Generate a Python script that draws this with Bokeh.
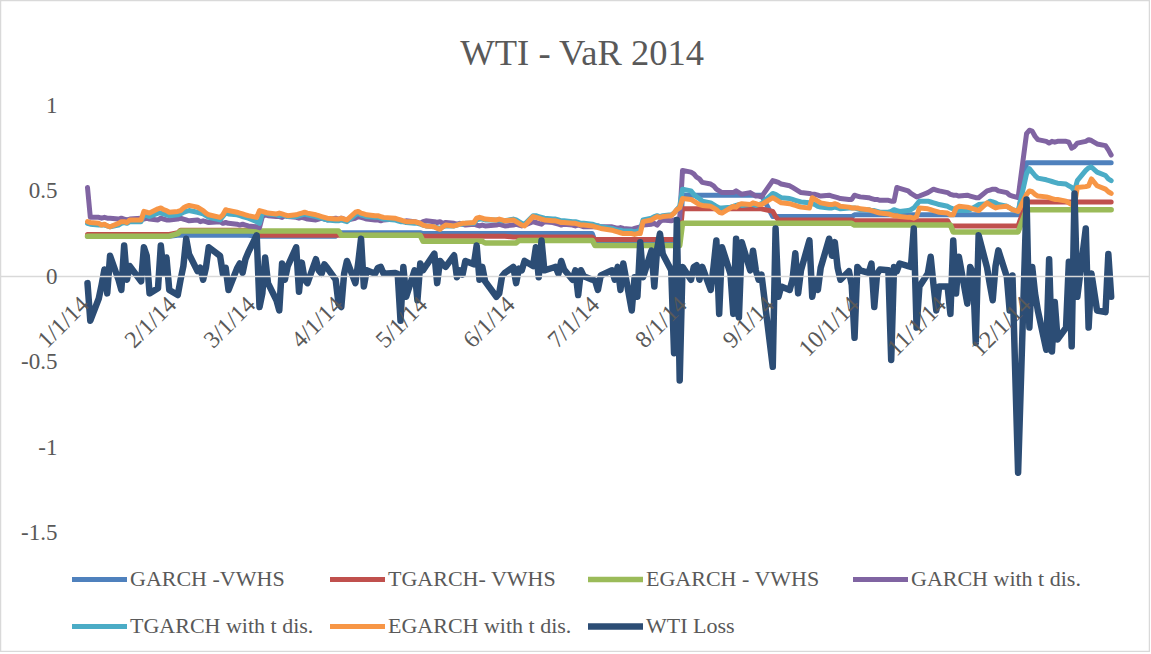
import math
import pandas as pd
from bokeh.plotting import figure
from bokeh.models import (Legend, LegendItem, Label, FixedTicker, Range1d,
                          CustomJSTickFormatter)
from bokeh.core.properties import value
from bokeh.embed import file_html
from bokeh.resources import INLINE

# ---------------- data ----------------
HOLIDAYS = ["2014-01-20", "2014-02-17", "2014-04-18", "2014-05-26",
            "2014-07-04", "2014-09-01", "2014-11-27", "2014-12-25"]
DATES = pd.bdate_range("2014-01-02", "2014-12-31", freq="C", holidays=HOLIDAYS)

MONTH_TICKS = ["2014-01-01", "2014-02-01", "2014-03-01", "2014-04-01", "2014-05-01", "2014-06-01",
               "2014-07-01", "2014-08-01", "2014-09-01", "2014-10-01", "2014-11-01", "2014-12-01"]

Y_TICKS = [-1.5, -1.0, -0.5, 0.0, 0.5, 1.0]

GARCH_VWHS = [
    0.235, 0.235, 0.235, 0.235, 0.235, 0.235, 0.235, 0.235, 0.235, 0.235, 0.235, 0.235, 0.235, 0.235, 0.235, 0.235, 0.235, 0.235, 0.235, 0.235, 0.235,
    0.24, 0.24, 0.24, 0.24, 0.24, 0.24, 0.24, 0.24, 0.24, 0.24, 0.24, 0.24, 0.24, 0.24, 0.24, 0.24, 0.24, 0.24, 0.24,
    0.235, 0.235, 0.235, 0.235, 0.235, 0.235, 0.235, 0.235, 0.235, 0.235, 0.235, 0.235, 0.235, 0.235, 0.235, 0.235, 0.235, 0.235, 0.235, 0.235, 0.235,
    0.255, 0.255, 0.255, 0.255, 0.255, 0.255, 0.255, 0.255, 0.255, 0.255, 0.255, 0.255, 0.255, 0.255, 0.255, 0.255, 0.255, 0.255, 0.255, 0.255, 0.255,
    0.25, 0.25, 0.25, 0.25, 0.25, 0.25, 0.25, 0.25, 0.25, 0.25, 0.25, 0.25, 0.25, 0.25, 0.25, 0.25, 0.25, 0.25, 0.25, 0.25, 0.25,
    0.25, 0.25, 0.25, 0.25, 0.25, 0.25, 0.25, 0.25, 0.25, 0.25, 0.25, 0.25, 0.25, 0.25, 0.25, 0.25, 0.25, 0.25, 0.25, 0.25, 0.25,
    0.205, 0.205, 0.205, 0.205, 0.205, 0.205, 0.205, 0.205, 0.205, 0.205, 0.205, 0.205, 0.205, 0.205, 0.205, 0.205, 0.205, 0.205, 0.205, 0.205, 0.205, 0.205,
    0.475, 0.475, 0.475, 0.475, 0.475, 0.475, 0.475, 0.475, 0.475, 0.475, 0.475, 0.475, 0.475, 0.475, 0.475, 0.475, 0.475, 0.475, 0.475, 0.475, 0.475,
    0.35, 0.35, 0.35, 0.35, 0.35, 0.35, 0.35, 0.35, 0.35, 0.35, 0.35, 0.35, 0.35, 0.35, 0.35, 0.35, 0.35, 0.35, 0.35, 0.35, 0.35,
    0.36, 0.36, 0.36, 0.36, 0.36, 0.36, 0.36, 0.36, 0.36, 0.36, 0.36, 0.36, 0.36, 0.36, 0.36, 0.36, 0.36, 0.36, 0.36, 0.36, 0.36, 0.36, 0.36,
    0.36, 0.36, 0.36, 0.36, 0.36, 0.36, 0.36, 0.36, 0.36, 0.36, 0.36, 0.36, 0.36, 0.36, 0.36, 0.36, 0.36, 0.36, 0.36,
    0.665, 0.665, 0.665, 0.665, 0.665, 0.665, 0.665, 0.665, 0.665, 0.665, 0.665, 0.665, 0.665, 0.665, 0.665, 0.665, 0.665, 0.665, 0.665, 0.665, 0.665, 0.665,
]

TGARCH_VWHS = [
    0.245, 0.245, 0.245, 0.245, 0.245, 0.245, 0.245, 0.245, 0.245, 0.245, 0.245, 0.245, 0.245, 0.245, 0.245, 0.245, 0.245, 0.245, 0.245, 0.245, 0.245,
    0.255, 0.27, 0.27, 0.27, 0.27, 0.27, 0.27, 0.27, 0.27, 0.27, 0.27, 0.27, 0.27, 0.27, 0.27, 0.27, 0.27, 0.27, 0.27,
    0.27, 0.24, 0.24, 0.24, 0.24, 0.24, 0.24, 0.24, 0.24, 0.24, 0.24, 0.24, 0.24, 0.24, 0.24, 0.24, 0.24, 0.24, 0.24, 0.24, 0.24,
    0.24, 0.24, 0.24, 0.24, 0.24, 0.24, 0.24, 0.24, 0.24, 0.24, 0.24, 0.24, 0.24, 0.24, 0.24, 0.24, 0.24, 0.24, 0.24, 0.24, 0.24,
    0.235, 0.235, 0.235, 0.235, 0.235, 0.235, 0.235, 0.235, 0.235, 0.235, 0.235, 0.235, 0.235, 0.235, 0.235, 0.235, 0.235, 0.235, 0.235, 0.235, 0.235,
    0.23, 0.23, 0.23, 0.23, 0.23, 0.23, 0.23, 0.23, 0.23, 0.23, 0.23, 0.23, 0.23, 0.23, 0.23, 0.23, 0.23, 0.23, 0.23, 0.23, 0.23,
    0.215, 0.215, 0.215, 0.215, 0.215, 0.215, 0.215, 0.215, 0.215, 0.215, 0.215, 0.215, 0.215, 0.215, 0.215, 0.215, 0.215, 0.215, 0.215, 0.215, 0.215, 0.215,
    0.395, 0.395, 0.395, 0.395, 0.395, 0.395, 0.395, 0.395, 0.395, 0.395, 0.395, 0.395, 0.395, 0.395, 0.395, 0.395, 0.395, 0.395, 0.395, 0.395, 0.395,
    0.38, 0.35, 0.33, 0.33, 0.33, 0.33, 0.33, 0.33, 0.33, 0.33, 0.33, 0.33, 0.33, 0.33, 0.33, 0.33, 0.33, 0.33, 0.33, 0.33, 0.33,
    0.325, 0.325, 0.325, 0.325, 0.325, 0.325, 0.325, 0.325, 0.325, 0.325, 0.325, 0.325, 0.325, 0.325, 0.325, 0.325, 0.325, 0.325, 0.325, 0.325, 0.325, 0.325, 0.325,
    0.325, 0.295, 0.295, 0.295, 0.295, 0.295, 0.295, 0.295, 0.295, 0.295, 0.295, 0.295, 0.295, 0.295, 0.295, 0.295, 0.295, 0.295, 0.295,
    0.435, 0.435, 0.435, 0.435, 0.435, 0.435, 0.435, 0.435, 0.435, 0.435, 0.435, 0.435, 0.435, 0.435, 0.435, 0.435, 0.435, 0.435, 0.435, 0.435, 0.435, 0.435,
]

EGARCH_VWHS = [
    0.235, 0.235, 0.235, 0.235, 0.235, 0.235, 0.235, 0.235, 0.235, 0.235, 0.235, 0.235, 0.235, 0.235, 0.235, 0.235, 0.235, 0.235, 0.235, 0.235, 0.235,
    0.25, 0.265, 0.265, 0.265, 0.265, 0.265, 0.265, 0.265, 0.265, 0.265, 0.265, 0.265, 0.265, 0.265, 0.265, 0.265, 0.265, 0.265, 0.265,
    0.265, 0.265, 0.265, 0.265, 0.265, 0.265, 0.265, 0.265, 0.265, 0.265, 0.265, 0.265, 0.265, 0.265, 0.265, 0.265, 0.265, 0.265, 0.265, 0.265, 0.265,
    0.265, 0.24, 0.24, 0.24, 0.24, 0.24, 0.24, 0.24, 0.24, 0.24, 0.24, 0.24, 0.24, 0.24, 0.24, 0.24, 0.24, 0.24, 0.24, 0.24, 0.24,
    0.205, 0.205, 0.205, 0.205, 0.205, 0.205, 0.205, 0.205, 0.205, 0.205, 0.205, 0.205, 0.205, 0.205, 0.205, 0.205, 0.195, 0.195, 0.195, 0.195, 0.195,
    0.195, 0.195, 0.21, 0.21, 0.21, 0.21, 0.21, 0.21, 0.21, 0.21, 0.21, 0.21, 0.21, 0.21, 0.21, 0.21, 0.21, 0.21, 0.21, 0.21, 0.21,
    0.18, 0.18, 0.18, 0.18, 0.18, 0.18, 0.18, 0.18, 0.18, 0.18, 0.18, 0.18, 0.18, 0.18, 0.18, 0.18, 0.18, 0.18, 0.18, 0.18, 0.18, 0.18,
    0.31, 0.31, 0.31, 0.31, 0.31, 0.31, 0.31, 0.31, 0.31, 0.31, 0.31, 0.31, 0.31, 0.31, 0.31, 0.31, 0.31, 0.31, 0.31, 0.31, 0.31,
    0.31, 0.31, 0.31, 0.31, 0.31, 0.31, 0.31, 0.31, 0.31, 0.31, 0.31, 0.31, 0.31, 0.31, 0.31, 0.31, 0.31, 0.31, 0.31, 0.31, 0.31,
    0.30, 0.30, 0.30, 0.30, 0.30, 0.30, 0.30, 0.30, 0.30, 0.30, 0.30, 0.30, 0.30, 0.30, 0.30, 0.30, 0.30, 0.30, 0.30, 0.30, 0.30, 0.30, 0.30,
    0.30, 0.30, 0.26, 0.26, 0.26, 0.26, 0.26, 0.26, 0.26, 0.26, 0.26, 0.26, 0.26, 0.26, 0.26, 0.26, 0.26, 0.26, 0.26,
    0.39, 0.39, 0.39, 0.39, 0.39, 0.39, 0.39, 0.39, 0.39, 0.39, 0.39, 0.39, 0.39, 0.39, 0.39, 0.39, 0.39, 0.39, 0.39, 0.39, 0.39, 0.39,
]

GARCH_T = [
    0.52, 0.345, 0.345, 0.34, 0.345, 0.34, 0.34, 0.335, 0.34, 0.335, 0.33, 0.335, 0.34, 0.335, 0.34, 0.335, 0.33, 0.34, 0.335, 0.33, 0.33,
    0.335, 0.34, 0.335, 0.33, 0.325, 0.33, 0.32, 0.325, 0.32, 0.315, 0.32, 0.31, 0.315, 0.31, 0.305, 0.30, 0.305, 0.30, 0.295,
    0.29, 0.285, 0.35, 0.36, 0.355, 0.35, 0.35, 0.345, 0.355, 0.35, 0.345, 0.34, 0.345, 0.34, 0.335, 0.33, 0.335, 0.34, 0.335, 0.33, 0.34,
    0.335, 0.34, 0.335, 0.33, 0.34, 0.35, 0.345, 0.34, 0.335, 0.33, 0.33, 0.325, 0.33, 0.335, 0.33, 0.325, 0.32, 0.325, 0.32, 0.315, 0.31,
    0.32, 0.325, 0.32, 0.315, 0.32, 0.31, 0.315, 0.31, 0.305, 0.31, 0.305, 0.30, 0.305, 0.30, 0.295, 0.30, 0.295, 0.30, 0.305, 0.30, 0.295,
    0.30, 0.305, 0.30, 0.295, 0.30, 0.32, 0.315, 0.31, 0.305, 0.32, 0.315, 0.31, 0.305, 0.30, 0.305, 0.30, 0.295, 0.30, 0.295, 0.29, 0.29,
    0.29, 0.295, 0.29, 0.29, 0.285, 0.28, 0.285, 0.28, 0.275, 0.28, 0.285, 0.29, 0.30, 0.305, 0.31, 0.30, 0.32, 0.33, 0.325, 0.33, 0.335, 0.34,
    0.62, 0.61, 0.60, 0.58, 0.57, 0.55, 0.54, 0.53, 0.51, 0.50, 0.49, 0.49, 0.49, 0.50, 0.49, 0.48, 0.49, 0.48, 0.47, 0.47, 0.465,
    0.56, 0.555, 0.55, 0.54, 0.53, 0.52, 0.51, 0.50, 0.49, 0.485, 0.48, 0.48, 0.475, 0.47, 0.475, 0.47, 0.465, 0.46, 0.455, 0.45, 0.45,
    0.475, 0.47, 0.465, 0.46, 0.455, 0.45, 0.45, 0.445, 0.445, 0.44, 0.44, 0.52, 0.515, 0.50, 0.485, 0.475, 0.465, 0.47, 0.49, 0.50, 0.51, 0.505, 0.50,
    0.49, 0.48, 0.475, 0.475, 0.47, 0.475, 0.47, 0.465, 0.46, 0.46, 0.50, 0.505, 0.51, 0.51, 0.50, 0.49, 0.475, 0.47, 0.46,
    0.835, 0.855, 0.85, 0.82, 0.80, 0.79, 0.78, 0.79, 0.785, 0.79, 0.79, 0.785, 0.75, 0.76, 0.78, 0.79, 0.80, 0.795, 0.775, 0.765, 0.74, 0.71,
]

TGARCH_T = [
    0.31, 0.305, 0.30, 0.30, 0.30, 0.295, 0.29, 0.30, 0.31, 0.315, 0.31, 0.32, 0.32, 0.36, 0.355, 0.35, 0.37, 0.37, 0.365, 0.36, 0.355,
    0.36, 0.365, 0.375, 0.38, 0.385, 0.375, 0.37, 0.365, 0.355, 0.345, 0.33, 0.35, 0.37, 0.365, 0.36, 0.355, 0.35, 0.345, 0.34,
    0.32, 0.31, 0.37, 0.37, 0.365, 0.36, 0.355, 0.36, 0.355, 0.35, 0.35, 0.355, 0.36, 0.365, 0.36, 0.35, 0.345, 0.34, 0.335, 0.33, 0.325,
    0.325, 0.33, 0.325, 0.32, 0.36, 0.37, 0.36, 0.355, 0.35, 0.345, 0.345, 0.34, 0.335, 0.33, 0.325, 0.32, 0.32, 0.315, 0.31, 0.31, 0.305,
    0.30, 0.295, 0.29, 0.285, 0.28, 0.29, 0.295, 0.295, 0.30, 0.305, 0.305, 0.31, 0.31, 0.33, 0.335, 0.335, 0.33, 0.33, 0.33, 0.325, 0.325,
    0.335, 0.33, 0.32, 0.31, 0.305, 0.355, 0.355, 0.35, 0.345, 0.34, 0.335, 0.335, 0.33, 0.325, 0.325, 0.32, 0.32, 0.315, 0.31, 0.31, 0.305,
    0.30, 0.295, 0.29, 0.28, 0.275, 0.27, 0.27, 0.265, 0.265, 0.26, 0.265, 0.27, 0.33, 0.34, 0.35, 0.355, 0.35, 0.355, 0.36, 0.37, 0.39, 0.41,
    0.51, 0.50, 0.48, 0.465, 0.455, 0.44, 0.43, 0.42, 0.41, 0.40, 0.40, 0.405, 0.41, 0.415, 0.42, 0.415, 0.42, 0.42, 0.415, 0.42, 0.425,
    0.485, 0.48, 0.47, 0.46, 0.455, 0.45, 0.445, 0.44, 0.435, 0.43, 0.425, 0.42, 0.41, 0.405, 0.40, 0.40, 0.405, 0.40, 0.395, 0.40, 0.40,
    0.40, 0.395, 0.39, 0.39, 0.385, 0.385, 0.38, 0.375, 0.375, 0.38, 0.39, 0.385, 0.38, 0.385, 0.39, 0.40, 0.42, 0.44, 0.44, 0.435, 0.43, 0.425, 0.42,
    0.41, 0.40, 0.395, 0.39, 0.385, 0.385, 0.39, 0.40, 0.41, 0.42, 0.425, 0.44, 0.435, 0.43, 0.42, 0.41, 0.40, 0.39, 0.38,
    0.60, 0.63, 0.61, 0.59, 0.575, 0.565, 0.56, 0.555, 0.55, 0.545, 0.54, 0.53, 0.52, 0.50, 0.56, 0.62, 0.635, 0.64, 0.61, 0.59, 0.57, 0.56,
]

EGARCH_T = [
    0.32, 0.315, 0.31, 0.30, 0.305, 0.295, 0.29, 0.31, 0.32, 0.32, 0.315, 0.33, 0.33, 0.38, 0.375, 0.37, 0.395, 0.40, 0.39, 0.385, 0.375,
    0.38, 0.385, 0.40, 0.41, 0.415, 0.405, 0.395, 0.385, 0.37, 0.36, 0.345, 0.36, 0.39, 0.385, 0.375, 0.37, 0.365, 0.36, 0.355,
    0.345, 0.385, 0.38, 0.375, 0.37, 0.365, 0.37, 0.365, 0.36, 0.355, 0.36, 0.365, 0.37, 0.375, 0.37, 0.36, 0.355, 0.35, 0.345, 0.34, 0.335,
    0.335, 0.34, 0.335, 0.33, 0.375, 0.38, 0.37, 0.365, 0.36, 0.355, 0.355, 0.35, 0.345, 0.34, 0.335, 0.33, 0.325, 0.32, 0.32, 0.315, 0.31,
    0.30, 0.295, 0.29, 0.28, 0.275, 0.29, 0.30, 0.295, 0.30, 0.305, 0.31, 0.31, 0.315, 0.34, 0.345, 0.34, 0.335, 0.33, 0.335, 0.33, 0.325,
    0.33, 0.32, 0.31, 0.30, 0.295, 0.35, 0.345, 0.34, 0.335, 0.33, 0.325, 0.325, 0.32, 0.315, 0.315, 0.31, 0.31, 0.305, 0.30, 0.30, 0.295,
    0.29, 0.285, 0.28, 0.27, 0.265, 0.26, 0.255, 0.25, 0.25, 0.245, 0.25, 0.25, 0.32, 0.33, 0.34, 0.35, 0.345, 0.35, 0.355, 0.37, 0.39, 0.40,
    0.455, 0.45, 0.44, 0.43, 0.42, 0.415, 0.41, 0.40, 0.39, 0.375, 0.37, 0.40, 0.41, 0.405, 0.42, 0.425, 0.42, 0.43, 0.425, 0.42, 0.42,
    0.46, 0.45, 0.44, 0.43, 0.425, 0.42, 0.415, 0.41, 0.405, 0.40, 0.46, 0.45, 0.44, 0.43, 0.42, 0.42, 0.425, 0.42, 0.41, 0.405, 0.40,
    0.40, 0.40, 0.395, 0.39, 0.385, 0.38, 0.375, 0.37, 0.365, 0.36, 0.355, 0.355, 0.35, 0.345, 0.345, 0.34, 0.35, 0.40, 0.395, 0.39, 0.385, 0.38, 0.375,
    0.37, 0.36, 0.36, 0.40, 0.41, 0.405, 0.40, 0.395, 0.39, 0.385, 0.43, 0.42, 0.41, 0.40, 0.405, 0.41, 0.40, 0.39, 0.38,
    0.48, 0.50, 0.495, 0.48, 0.47, 0.465, 0.46, 0.455, 0.45, 0.45, 0.44, 0.43, 0.42, 0.415, 0.52, 0.525, 0.53, 0.57, 0.53, 0.51, 0.495, 0.485,
]

WTI_LOSS = [
    -0.04, -0.26, -0.13, -0.05, 0.04, -0.10, 0.12, -0.02, -0.08, 0.18, -0.02, 0.06, -0.03, 0.17, 0.12, -0.10, -0.07, 0.18, 0.02, 0.11, -0.08,
    -0.11, -0.02, 0.06, 0.22, 0.13, 0.03, 0.05, -0.02, 0.05, 0.17, 0.12, 0.015, 0.05, -0.08, 0.045, 0.075, 0.02, 0.10, 0.14,
    0.24, -0.18, -0.10, 0.11, -0.04, -0.14, -0.20, 0.075, -0.02, 0.06, 0.17, -0.09, 0.08, -0.02, -0.04, 0.10, 0.035, 0.015, 0.07, 0.05, -0.02,
    -0.16, -0.18, 0.015, 0.09, -0.04, 0.08, 0.22, -0.06, 0.035, 0.015, 0.05, 0.055, 0.015, 0.02, 0.015, -0.26, 0.055, -0.12, 0.035, -0.14, 0.075,
    0.035, 0.06, 0.133, -0.04, 0.09, 0.07, 0.055, 0.123, -0.005, 0.035, 0.01, 0.09, 0.07, 0.18, -0.02, 0.055, -0.03, -0.12, -0.10, 0.0, 0.02,
    0.055, -0.04, 0.045, 0.035, 0.09, 0.06, 0.17, -0.005, 0.21, 0.035, 0.05, 0.055, 0.015, 0.09, 0.04, -0.02, 0.035, -0.11, 0.035, 0.0, -0.02,
    -0.025, -0.08, 0.005, 0.035, -0.02, 0.055, -0.08, 0.075, -0.20, -0.005, -0.12, 0.20, -0.005, 0.15, -0.06, 0.16, 0.25, 0.13, 0.035, -0.45, 0.33, -0.61,
    0.055, -0.02, 0.055, 0.065, -0.02, 0.055, -0.08, 0.055, 0.21, -0.22, 0.17, 0.015, -0.22, 0.22, -0.24, 0.20, 0.035, 0.15, 0.035, -0.02, 0.01,
    -0.53, 0.28, -0.12, -0.06, -0.08, -0.02, 0.135, -0.10, 0.035, 0.21, -0.12, -0.02, -0.08, 0.05, 0.22, 0.12, 0.20, 0.05, -0.02, 0.03, -0.05,
    -0.36, 0.055, 0.035, 0.02, 0.075, -0.18, 0.015, 0.04, 0.035, -0.49, 0.055, 0.03, 0.075, 0.06, 0.055, 0.28, -0.30, -0.06, 0.017, 0.114, -0.05, -0.20, -0.06,
    -0.06, -0.22, 0.21, -0.10, 0.114, -0.16, 0.055, 0.02, -0.39, 0.24, 0.05, -0.05, -0.14, 0.06, 0.152, -0.003, -0.20, 0.005, -1.15,
    0.45, -0.30, 0.055, -0.10, -0.20, -0.43, 0.10, -0.44, -0.15, -0.37, -0.30, 0.085, -0.41, 0.485, -0.12, 0.28, -0.30, 0.016, -0.20, -0.21, 0.13, -0.12,
]

SERIES = [
    ("GARCH -VWHS", GARCH_VWHS, "#4F81BD", 5),
    ("TGARCH- VWHS", TGARCH_VWHS, "#C0504D", 5),
    ("EGARCH - VWHS", EGARCH_VWHS, "#9BBB59", 5.5),
    ("GARCH with t dis.", GARCH_T, "#8064A2", 5),
    ("TGARCH with t dis.", TGARCH_T, "#4BACC6", 5),
    ("EGARCH with t dis.", EGARCH_T, "#F79646", 5),
    ("WTI Loss", WTI_LOSS, "#2C4D75", 6.5),
]

TITLE = "WTI - VaR 2014"
FONT = "Liberation Serif"
TEXT_COLOR = "#595959"

# ---------------- figure ----------------
W, H = 1150, 652
PX_PER_DAY = 2.82
X0_PX = 87            # pixel of the first trading day
Y_TOP_PX, Y_BOT_PX = 105, 532   # pixels of 1.0 and -1.5
PX_PER_UNIT = (Y_BOT_PX - Y_TOP_PX) / 2.5


def ms(ts):
    return pd.Timestamp(ts).value / 1e6


DAY_MS = 86400000.0
day0 = ms("2014-01-02")
x_start = day0 - X0_PX / PX_PER_DAY * DAY_MS
x_end = day0 + (W - X0_PX) / PX_PER_DAY * DAY_MS
y_top = 1.0 + Y_TOP_PX / PX_PER_UNIT
y_bot = -1.5 - (H - Y_BOT_PX) / PX_PER_UNIT

p = figure(frame_width=W, frame_height=H,
           min_border_left=0, min_border_right=0, min_border_top=0, min_border_bottom=0,
           x_axis_type="datetime", x_range=Range1d(x_start, x_end), y_range=Range1d(y_bot, y_top),
           output_backend="svg", toolbar_location=None)
p.outline_line_color = "#D9D9D9"
p.outline_line_width = 1.5
p.xgrid.visible = False
p.ygrid.visible = False
p.background_fill_color = "white"
p.border_fill_color = "white"

n = len(DATES)
renderers = []
for name, vals, color, w in SERIES:
    m = min(n, len(vals))
    r = p.line(x=list(DATES[:m]), y=vals[:m], line_color=color, line_width=w,
               line_join="round", line_cap="round")
    renderers.append(r)

# x axis crossing at zero
xa = p.xaxis[0]
xa.fixed_location = 0
xa.ticker = FixedTicker(ticks=[ms(t) for t in MONTH_TICKS])
xa.formatter = CustomJSTickFormatter(code="""
const d = new Date(tick);
return (d.getUTCMonth()+1) + '/' + d.getUTCDate() + '/' + String(d.getUTCFullYear()).slice(2);
""")
xa.axis_line_color = "#D9D9D9"
xa.axis_line_width = 1.5
xa.major_tick_line_color = None
xa.minor_tick_line_color = None
xa.major_label_orientation = math.pi / 4
xa.major_label_text_font = FONT
xa.major_label_text_font_size = "24px"
xa.major_label_text_color = TEXT_COLOR
xa.major_label_standoff = 18

# y axis placed just left of the plotted data
ya = p.yaxis[0]
ya.fixed_location = day0 - 12 / PX_PER_DAY * DAY_MS
ya.ticker = FixedTicker(ticks=Y_TICKS)
ya.formatter = CustomJSTickFormatter(code="return String(Math.round(tick*10)/10);")
ya.axis_line_color = None
ya.major_tick_line_color = None
ya.minor_tick_line_color = None
ya.major_label_text_font = FONT
ya.major_label_text_font_size = "23px"
ya.major_label_text_color = TEXT_COLOR
ya.major_label_standoff = 12

# title
p.add_layout(Label(x=582, y=H - 52, x_units="screen", y_units="screen", text=TITLE,
                   text_align="center", text_baseline="middle", text_font=FONT,
                   text_font_size="36.5px", text_color=TEXT_COLOR))

# legend: 4 columns, 2 rows
row1, row2 = H - 592, H - 639
positions = [(72, row1), (330, row1), (588, row1), (853, row1),
             (72, row2), (330, row2), (588, row2)]
for (name, _, _, _), r, loc in zip(SERIES, renderers, positions):
    leg = Legend(items=[LegendItem(label=value(name), renderers=[r])], location=loc,
                 orientation="horizontal", glyph_width=55, glyph_height=24,
                 label_height=24, label_standoff=3, padding=0, margin=0, spacing=0,
                 background_fill_alpha=0, border_line_color=None,
                 label_text_font=FONT, label_text_font_size="22px",
                 label_text_color=TEXT_COLOR)
    p.add_layout(leg)

open("out.html", "w").write(file_html(p, INLINE))
